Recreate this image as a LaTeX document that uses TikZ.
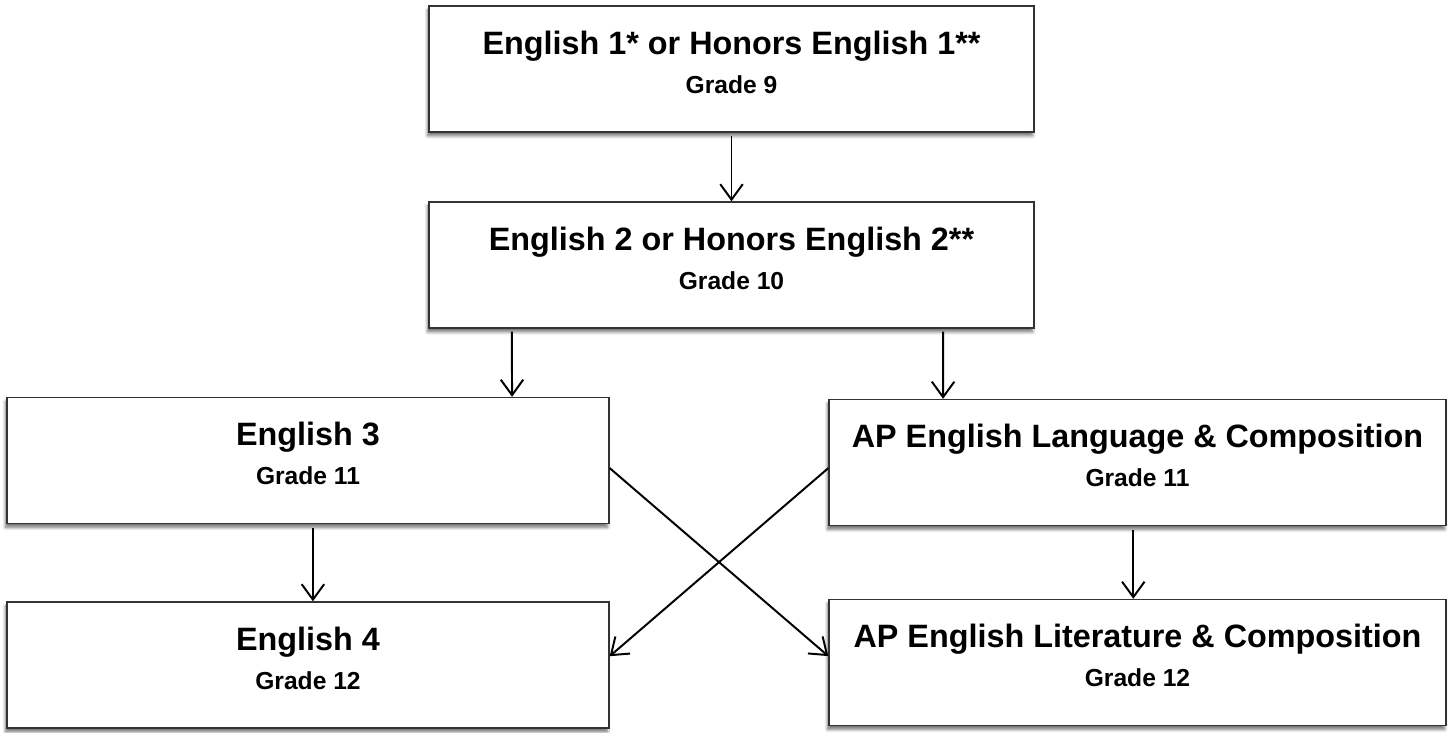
\documentclass[tikz,border=0pt]{standalone}
\usepackage{fontspec}
\setmainfont{Liberation Sans}
\usetikzlibrary{arrows.meta,shadows.blur}
\newcommand{\gradefont}{\fontsize{17.5}{21}\selectfont}

\begin{document}
\begin{tikzpicture}[x=0.025cm, y=-0.025cm]
        \tikzstyle{every node}=[font=\bfseries\fontsize{23}{28}\selectfont]
        \tikzstyle{course}=[draw=black!80, line width=1pt, fill=white, align=center, minimum height=126*0.025cm, blur shadow={shadow xshift=-1pt, shadow yshift=-2.8pt, shadow blur steps=6, shadow blur radius=2.2pt, shadow opacity=55}, execute at end node={\rule[-10pt]{0pt}{10pt}}]
        \tikzstyle{arr}=[-{Straight Barb[length=11pt,width=16pt]}, line width=1.4pt]
        \useasboundingbox (0,0) rectangle (1452,732);
        \node [course, minimum width=605*0.025cm] (eng1) at (731.5,69) {English 1* or Honors English 1**\\{\gradefont Grade 9}};
        \node [course, minimum width=605*0.025cm] (eng2) at (731.5,265) {English 2 or Honors English 2**\\{\gradefont Grade 10}};
        \node [course, minimum width=602*0.025cm] (eng3) at (308,460.5) {English 3\\{\gradefont Grade 11}};
        \node [course, minimum width=617*0.025cm] (aplang) at (1137.5,462.5) {AP English Language \& Composition\\{\gradefont Grade 11}};
        \node [course, minimum width=602*0.025cm] (eng4) at (308,665) {English 4\\{\gradefont Grade 12}};
        \node [course, minimum width=617*0.025cm] (aplit) at (1137.5,662.5) {AP English Literature \& Composition\\{\gradefont Grade 12}};
        \draw [arr, shorten <=2pt] (eng1.south) -- (eng2.north);
        \draw [arr, shorten <=2pt] ([xshift=-5.49cm]eng2.south) -- ([xshift=5.1cm]eng3.north);
        \draw [arr, shorten <=2pt] ([xshift=5.29cm]eng2.south) -- ([xshift=-4.86cm]aplang.north);
        \draw [arr, shorten <=3pt] ([xshift=3.5pt]eng3.south) -- ([xshift=3.5pt]eng4.north);
        \draw [arr, shorten <=3pt] ([xshift=-3pt]aplang.south) -- ([xshift=-3pt]aplit.north);
        \draw [arr] ([yshift=-0.19cm]eng3.east) -- ([yshift=0.16cm]aplit.west);
        \draw [arr] ([yshift=-0.14cm]aplang.west) -- ([yshift=0.22cm]eng4.east);
    \end{tikzpicture}
\end{document}
